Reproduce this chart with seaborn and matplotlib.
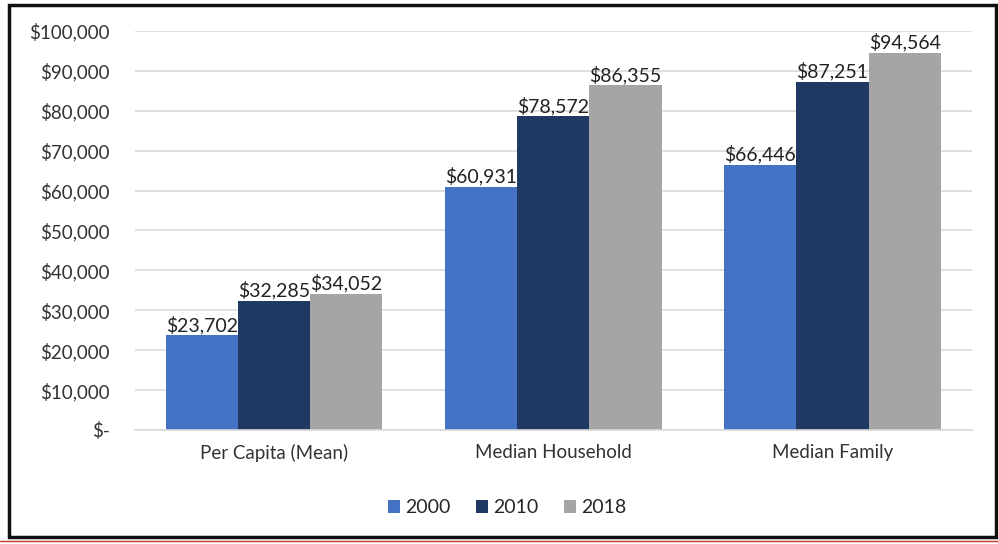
import matplotlib.pyplot as plt
import matplotlib.patches as mpatches
import matplotlib.lines as mlines
import pandas as pd
import seaborn as sns

# Income data
categories = ["Per Capita (Mean)", "Median Household", "Median Family"]
years = ["2000", "2010", "2018"]
income_2000 = [23702, 60931, 66446]
income_2010 = [32285, 78572, 87251]
income_2018 = [34052, 86355, 94564]

colors = ["#4472C4", "#1F3864", "#A5A5A5"]

rows = []
for yr, vals in zip(years, [income_2000, income_2010, income_2018]):
    for cat, v in zip(categories, vals):
        rows.append({"Category": cat, "Year": yr, "Income": v})
df = pd.DataFrame(rows)

sns.set_style("white")
plt.rcParams["font.family"] = ["Lato", "DejaVu Sans"]

fig = plt.figure(figsize=(9.98, 5.44), dpi=100)
ax = fig.add_axes([0.135, 0.2096, 0.839, 0.7334])

sns.barplot(data=df, x="Category", y="Income", hue="Year", palette=colors,
            width=0.775, gap=0, saturation=1, linewidth=0, ax=ax, legend=True)

for c in ax.containers:
    ax.bar_label(c, labels=[f"${v:,.0f}" for v in c.datavalues],
                 fontsize=14, color="#222222", padding=1)

ax.set_ylim(0, 100000)
ax.set_xlim(-0.5, 2.5)
ax.set_yticks(range(0, 100001, 10000))
ax.set_yticklabels(["$-"] + [f"${v:,}" for v in range(10000, 100001, 10000)])
ax.yaxis.grid(True, color="#D9D9D9", linewidth=1.2)
ax.set_axisbelow(True)
for s in ["top", "right", "left"]:
    ax.spines[s].set_visible(False)
ax.spines["bottom"].set_color("#D9D9D9")
ax.spines["bottom"].set_linewidth(1.2)
ax.tick_params(axis="y", labelsize=13.5, colors="#333333", length=0, pad=18)
ax.tick_params(axis="x", labelsize=13.5, colors="#333333", length=0, pad=10)
ax.set_xlabel("")
ax.set_ylabel("")

ax.legend(title=None, loc="upper center", bbox_to_anchor=(0.445, -0.13),
          ncol=3, frameon=False, fontsize=14, handlelength=0.6,
          handleheight=0.6, handletextpad=0.3, columnspacing=1.3)

# figure border
fig.patches.append(mpatches.Rectangle((9 / 998, 1 - 537 / 544), 987 / 998, 532 / 544,
                                      transform=fig.transFigure, fill=False,
                                      edgecolor="#111111", linewidth=2.5))
fig.lines.append(mlines.Line2D([0, 1], [1 - 541 / 544] * 2, transform=fig.transFigure,
                               color="#C0392B", linewidth=1))

fig.savefig("out.png", dpi=100)
